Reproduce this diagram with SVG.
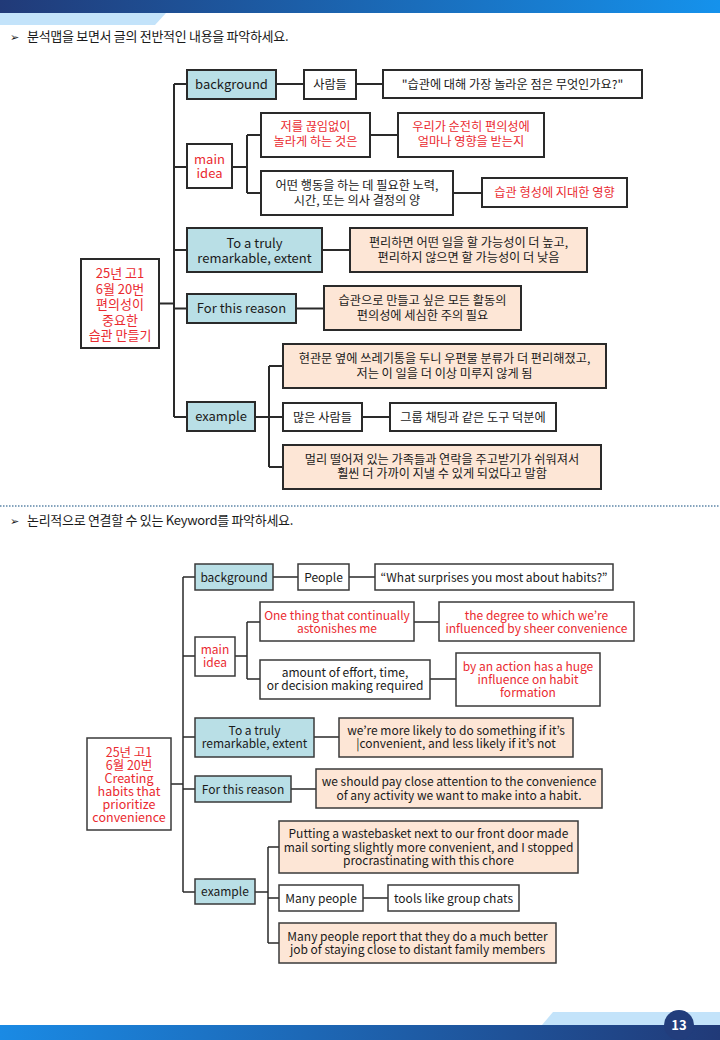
<svg xmlns="http://www.w3.org/2000/svg" width="720" height="1040" viewBox="0 0 720 1040">
<defs>
<linearGradient id="gTop" x1="0" y1="0" x2="1" y2="0">
<stop offset="0" stop-color="#213a78"/>
<stop offset="1" stop-color="#1592ec"/>
</linearGradient>
<linearGradient id="gBot" x1="0" y1="0" x2="1" y2="0">
<stop offset="0" stop-color="#1a8ae4"/>
<stop offset="1" stop-color="#213a78"/>
</linearGradient>
<style>
text{font-family:"Noto Sans CJK KR","Noto Sans",sans-serif;fill:#1a1a1a;text-anchor:middle}
.t1 rect{stroke:#2a2a2a;stroke-width:2}
.t2 rect{stroke:#3a3a3a;stroke-width:1.5}
.w{fill:#ffffff}
.b{fill:#b9dfe6}
.p{fill:#fde6d6}
.k1{font-size:12.2px}
.e1{font-size:13px}
.e2{font-size:12px}
.r{fill:#ea2a30}
.con path{fill:none;stroke:#2a2a2a}
.hd{font-size:13px;text-anchor:start;letter-spacing:-0.3px}
.ar{font-family:"DejaVu Sans",sans-serif;font-size:11px;text-anchor:start}
</style>
</defs>
<rect width="720" height="1040" fill="#ffffff"/>
<!-- header -->
<rect x="0" y="0" width="720" height="13" fill="url(#gTop)"/>
<polygon points="0,13 166,13 155,25 0,25" fill="#c3e3fa"/>
<text class="ar" x="10" y="41">➢</text>
<text class="hd" x="27" y="41">분석맵을 보면서 글의 전반적인 내용을 파악하세요.</text>
<line x1="0" y1="506" x2="720" y2="506" stroke="#5d86a8" stroke-width="1.5" stroke-dasharray="1.5 1.5"/>
<text class="ar" x="10" y="525">➢</text>
<text class="hd" x="27" y="525">논리적으로 연결할 수 있는 Keyword를 파악하세요.</text>
<!-- footer -->
<polygon points="553,1012 720,1012 720,1025 542,1025" fill="#c3e3fa"/>
<rect x="0" y="1025" width="720" height="15" fill="url(#gBot)"/>
<circle cx="679" cy="1025" r="15" fill="#223d7c"/>
<text x="679" y="1030" style="font-size:13px;font-weight:bold;fill:#ffffff">13</text>

<!-- top connectors -->
<g class="con" id="connectors-top" stroke-width="2">
<path d="M174,84 V417 M174,84 H187 M174,167 H187 M174,250 H187 M174,308.5 H187 M174,417 H187 M159,303.5 H174"/>
<path d="M276,84 H304 M356,84 H383"/>
<path d="M232,167 H247 M247,135 V193 M247,135 H261 M247,193 H261 M370,135 H398 M453,193 H482"/>
<path d="M322,250 H350 M296,308.5 H324"/>
<path d="M255,417 H269 M269,366 V467 M269,366 H283 M269,417 H283 M269,467 H283 M362,417 H390"/>
</g>

<g class="t1">
<g id="root1"><rect class="w" x="81" y="259" width="78" height="89"/>
<text class="r" style="font-size:13px"><tspan x="120" y="278">25년 고1</tspan><tspan x="120" y="293.5">6월 20번</tspan><tspan x="120" y="309">편의성이</tspan><tspan x="120" y="324.5">중요한</tspan><tspan x="120" y="340">습관 만들기</tspan></text></g>
<g id="bg1"><rect class="b" x="187" y="70" width="89" height="29"/><text class="e1" x="231.5" y="89">background</text></g>
<g id="people1"><rect class="w" x="304" y="70" width="52" height="29"/><text class="k1" x="330" y="89">사람들</text></g>
<g id="quote1"><rect class="w" x="383" y="70" width="259" height="28"/><text class="k1" x="512.5" y="88.5">"습관에 대해 가장 놀라운 점은 무엇인가요?"</text></g>
<g id="main1"><rect class="w" x="187" y="144" width="45" height="44"/><text class="e1 r"><tspan x="209.5" y="163.5">main</tspan><tspan x="209.5" y="178">idea</tspan></text></g>
<g id="m1a"><rect class="w" x="261" y="113" width="109" height="44"/><text class="k1 r"><tspan x="315.5" y="131">저를 끊임없이</tspan><tspan x="315.5" y="145.5">놀라게 하는 것은</tspan></text></g>
<g id="m1b"><rect class="w" x="398" y="113" width="146" height="44"/><text class="k1 r"><tspan x="471" y="131">우리가 순전히 편의성에</tspan><tspan x="471" y="145.5">얼마나 영향을 받는지</tspan></text></g>
<g id="m1c"><rect class="w" x="261" y="171" width="192" height="44"/><text class="k1"><tspan x="357" y="190">어떤 행동을 하는 데 필요한 노력,</tspan><tspan x="357" y="204.5">시간, 또는 의사 결정의 양</tspan></text></g>
<g id="m1d"><rect class="w" x="482" y="178" width="145" height="29"/><text class="k1 r" x="554.5" y="197">습관 형성에 지대한 영향</text></g>
<g id="tt1"><rect class="b" x="187" y="228" width="135" height="44"/><text class="e1"><tspan x="254.5" y="247.5">To a truly</tspan><tspan x="254.5" y="262.5">remarkable, extent</tspan></text></g>
<g id="tt1r"><rect class="p" x="350" y="228" width="237" height="44"/><text class="k1"><tspan x="468.5" y="247">편리하면 어떤 일을 할 가능성이 더 높고,</tspan><tspan x="468.5" y="262">편리하지 않으면 할 가능성이 더 낮음</tspan></text></g>
<g id="ftr1"><rect class="b" x="187" y="294" width="109" height="29"/><text class="e1" x="241.5" y="313">For this reason</text></g>
<g id="ftr1r"><rect class="p" x="324" y="286" width="197" height="44"/><text class="k1"><tspan x="422.5" y="305">습관으로 만들고 싶은 모든 활동의</tspan><tspan x="422.5" y="319.5">편의성에 세심한 주의 필요</tspan></text></g>
<g id="ex1"><rect class="b" x="187" y="402" width="68" height="29"/><text class="e1" x="221" y="421">example</text></g>
<g id="ex1a"><rect class="p" x="283" y="344" width="323" height="44"/><text class="k1"><tspan x="444.5" y="363">현관문 옆에 쓰레기통을 두니 우편물 분류가 더 편리해졌고,</tspan><tspan x="444.5" y="377.5">저는 이 일을 더 이상 미루지 않게 됨</tspan></text></g>
<g id="ex1b"><rect class="w" x="283" y="403" width="79" height="28"/><text class="k1" x="322.5" y="421.5">많은 사람들</text></g>
<g id="ex1c"><rect class="w" x="390" y="403" width="166" height="28"/><text class="k1" x="473" y="421.5">그룹 채팅과 같은 도구 덕분에</text></g>
<g id="ex1d"><rect class="p" x="283" y="445" width="318" height="44"/><text class="k1"><tspan x="442" y="463.5">멀리 떨어져 있는 가족들과 연락을 주고받기가 쉬워져서</tspan><tspan x="442" y="478">훨씬 더 가까이 지낼 수 있게 되었다고 말함</tspan></text></g>
</g>

<!-- bottom connectors -->
<g class="con" id="connectors-bottom" stroke-width="1.5">
<path d="M183,577 V892 M183,577 H195 M183,656 H195 M183,737 H195 M183,789 H195 M183,892 H195 M171,784 H183"/>
<path d="M273,577 H298 M349,577 H375"/>
<path d="M235,656 H247 M247,622 V679 M247,622 H260 M247,679 H260 M414,622 H439 M430,679 H456"/>
<path d="M314,737 H339 M291,789 H316"/>
<path d="M255,892 H268 M268,847 V943 M268,847 H279 M268,898 H279 M268,943 H279 M363,898 H388"/>
</g>

<g class="t2">
<g id="root2"><rect class="w" x="87" y="738" width="84" height="92"/>
<text class="r" style="font-size:12.5px"><tspan x="129" y="756.5">25년 고1</tspan><tspan x="129" y="769.5">6월 20번</tspan><tspan x="129" y="782.5">Creating</tspan><tspan x="129" y="795.5">habits that</tspan><tspan x="129" y="808.5">prioritize</tspan><tspan x="129" y="821.5">convenience</tspan></text></g>
<g id="bg2"><rect class="b" x="195" y="564" width="78" height="26"/><text class="e2" x="234" y="581.5">background</text></g>
<g id="people2"><rect class="w" x="298" y="564" width="51" height="26"/><text class="e2" x="323.5" y="581.5">People</text></g>
<g id="quote2"><rect class="w" x="375" y="564" width="238" height="26"/><text class="e2" x="494" y="581.5">“What surprises you most about habits?”</text></g>
<g id="main2"><rect class="w" x="195" y="637" width="40" height="39"/><text class="e2 r"><tspan x="215" y="653.5">main</tspan><tspan x="215" y="667">idea</tspan></text></g>
<g id="m2a"><rect class="w" x="260" y="602" width="154" height="39"/><text class="e2 r"><tspan x="337" y="619.5">One thing that continually</tspan><tspan x="337" y="632.5">astonishes me</tspan></text></g>
<g id="m2b"><rect class="w" x="439" y="602" width="195" height="39"/><text class="e2 r"><tspan x="536.5" y="619.5">the degree to which we’re</tspan><tspan x="536.5" y="632.5">influenced by sheer convenience</tspan></text></g>
<g id="m2c"><rect class="w" x="260" y="660" width="170" height="39"/><text class="e2"><tspan x="345" y="677">amount of effort, time,</tspan><tspan x="345" y="690">or decision making required</tspan></text></g>
<g id="m2d"><rect class="w" x="456" y="653" width="144" height="53"/><text class="e2 r"><tspan x="528" y="670.5">by an action has a huge</tspan><tspan x="528" y="683.5">influence on habit</tspan><tspan x="528" y="696.5">formation</tspan></text></g>
<g id="tt2"><rect class="b" x="195" y="718" width="119" height="39"/><text class="e2"><tspan x="254.5" y="735">To a truly</tspan><tspan x="254.5" y="748">remarkable, extent</tspan></text></g>
<g id="tt2r"><rect class="p" x="339" y="718" width="234" height="39"/><text class="e2"><tspan x="456" y="735">we’re more likely to do something if it’s</tspan><tspan x="456" y="748">|convenient, and less likely if it’s not</tspan></text></g>
<g id="ftr2"><rect class="b" x="195" y="776" width="96" height="26"/><text class="e2" x="243" y="793.5">For this reason</text></g>
<g id="ftr2r"><rect class="p" x="316" y="769" width="286" height="39"/><text class="e2"><tspan x="459" y="786">we should pay close attention to the convenience</tspan><tspan x="459" y="799.5">of any activity we want to make into a habit.</tspan></text></g>
<g id="ex2"><rect class="b" x="195" y="879" width="60" height="25"/><text class="e2" x="225" y="896">example</text></g>
<g id="ex2a"><rect class="p" x="279" y="821" width="299" height="52"/><text class="e2"><tspan x="428.5" y="838">Putting a wastebasket next to our front door made</tspan><tspan x="428.5" y="851.5">mail sorting slightly more convenient, and I stopped</tspan><tspan x="428.5" y="865">procrastinating with this chore</tspan></text></g>
<g id="ex2b"><rect class="w" x="279" y="885" width="84" height="26"/><text class="e2" x="321" y="902.5">Many people</text></g>
<g id="ex2c"><rect class="w" x="388" y="885" width="131" height="26"/><text class="e2" x="453.5" y="902.5">tools like group chats</text></g>
<g id="ex2d"><rect class="p" x="279" y="923" width="277" height="40"/><text class="e2"><tspan x="417.5" y="940.5">Many people report that they do a much better</tspan><tspan x="417.5" y="954">job of staying close to distant family members</tspan></text></g>
</g>
</svg>
